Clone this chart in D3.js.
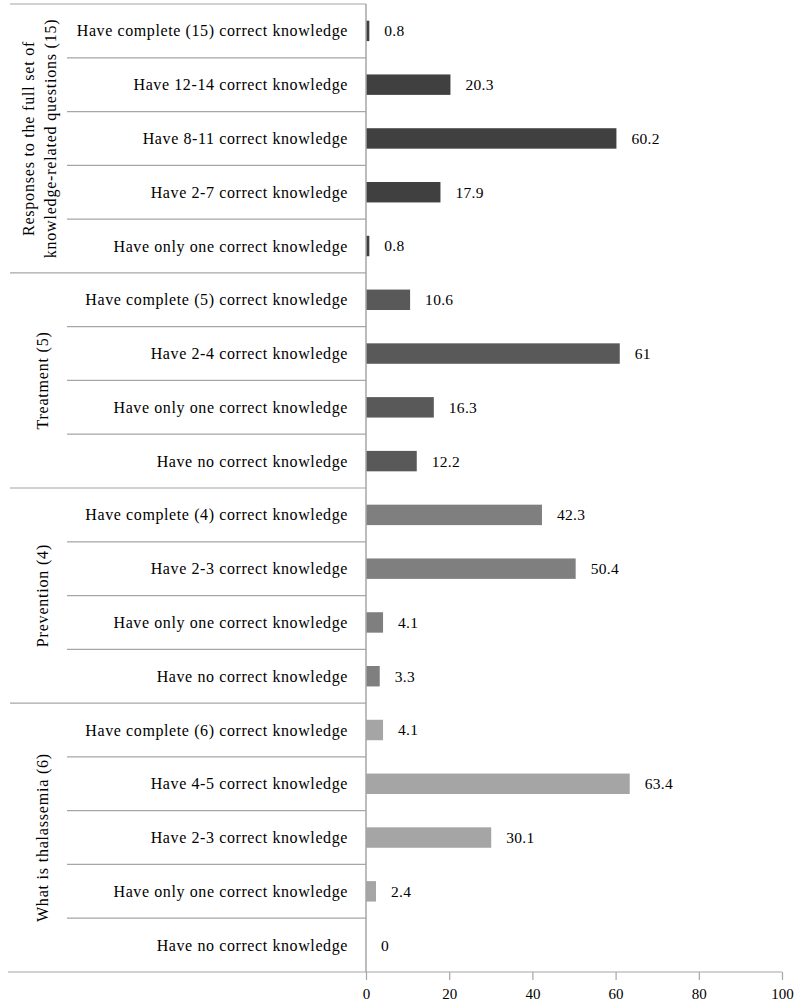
<!DOCTYPE html>
<html><head><meta charset="utf-8">
<script src="https://cdn.jsdelivr.net/npm/d3@7"></script>
<style>body{margin:0;background:#fff}svg{display:block}</style>
</head><body>
<svg id="c" width="799" height="1005"></svg>
<script>
const groupNames = [
  ["Responses to the full set of", "knowledge-related questions (15)"],
  ["Treatment (5)"],
  ["Prevention (4)"],
  ["What is thalassemia (6)"]
];
const groupColors = ["#404040", "#595959", "#7f7f7f", "#a5a5a5"];
const categories = [
  "Have complete (15) correct knowledge",
  "Have 12-14 correct knowledge",
  "Have 8-11 correct knowledge",
  "Have 2-7 correct knowledge",
  "Have only one correct knowledge",
  "Have complete (5) correct knowledge",
  "Have 2-4 correct knowledge",
  "Have only one correct knowledge",
  "Have no correct knowledge",
  "Have complete (4) correct knowledge",
  "Have 2-3 correct knowledge",
  "Have only one correct knowledge",
  "Have no correct knowledge",
  "Have complete (6) correct knowledge",
  "Have 4-5 correct knowledge",
  "Have 2-3 correct knowledge",
  "Have only one correct knowledge",
  "Have no correct knowledge"
];
const groupOf = [0,0,0,0,0,1,1,1,1,2,2,2,2,3,3,3,3,3];
const values = [0.8,20.3,60.2,17.9,0.8,10.6,61,16.3,12.2,42.3,50.4,4.1,3.3,4.1,63.4,30.1,2.4,0];
const valueLabels = ["0.8","20.3","60.2","17.9","0.8","10.6","61","16.3","12.2","42.3","50.4","4.1","3.3","4.1","63.4","30.1","2.4","0"];
const xTicks = [0,20,40,60,80,100];

const svg = d3.select("#c");
const font = "'Liberation Serif', 'DejaVu Serif', serif";
const x0 = 366, x1 = 782, yTop = 4, yBot = 972;
const x = d3.scaleLinear().domain([0,100]).range([x0, x1]);
const idx = d3.range(categories.length);
const y = d3.scaleBand().domain(idx).range([yTop, yBot]).paddingInner(0.62).paddingOuter(0.31);
const rowH = (yBot - yTop) / categories.length;
const lineCol = "#a6a6a6";

// row separator lines
idx.forEach(i => {
  if (i === 0) return;
  const isGroupStart = groupOf[i] !== groupOf[i-1];
  const yy = yTop + i * rowH;
  svg.append("line").attr("x1", isGroupStart ? 10 : 67).attr("x2", x0)
    .attr("y1", yy).attr("y2", yy).attr("stroke", lineCol).attr("stroke-width", 1.2);
});
svg.append("line").attr("x1", 10).attr("x2", x0).attr("y1", yTop).attr("y2", yTop)
  .attr("stroke", lineCol).attr("stroke-width", 1.2);

// bars
svg.selectAll("rect.bar").data(idx).enter().append("rect")
  .attr("x", x(0)).attr("y", i => y(i))
  .attr("width", i => x(values[i]) - x(0)).attr("height", y.bandwidth())
  .attr("fill", i => groupColors[groupOf[i]]);

// value labels
svg.selectAll("text.val").data(idx).enter().append("text")
  .attr("x", i => x(values[i]) + 15).attr("y", i => y(i) + y.bandwidth()/2)
  .attr("dy", "0.35em").attr("font-family", font).attr("font-size", 15.5)
  .attr("letter-spacing", 0.3).attr("fill", "#000")
  .text(i => valueLabels[i]);

// category labels
svg.selectAll("text.cat").data(idx).enter().append("text")
  .attr("x", 348).attr("y", i => y(i) + y.bandwidth()/2)
  .attr("dy", "0.35em").attr("text-anchor", "end")
  .attr("font-family", font).attr("font-size", 16).attr("letter-spacing", 0.6).attr("fill", "#000")
  .text(i => categories[i]);

// group labels
groupNames.forEach((lines, g) => {
  const rows = idx.filter(i => groupOf[i] === g);
  const cy = yTop + (rows[0] + rows[rows.length-1] + 1) / 2 * rowH;
  const cx = lines.length > 1 ? 39 : 42;
  const t = svg.append("text").attr("transform", `translate(${cx},${cy}) rotate(-90)`)
    .attr("text-anchor", "middle").attr("font-family", font).attr("font-size", 16)
    .attr("letter-spacing", 0.8).attr("fill", "#000");
  lines.forEach((ln, k) => {
    t.append("tspan").attr("x", 0).attr("y", (k - (lines.length - 1) / 2) * 22).attr("dy", "0.35em").text(ln);
  });
});

// vertical axis line
svg.append("line").attr("x1", x0).attr("x2", x0).attr("y1", yTop).attr("y2", yBot)
  .attr("stroke", lineCol).attr("stroke-width", 1.5);

// x axis
const ax = svg.append("g").attr("transform", `translate(0,${yBot})`)
  .call(d3.axisBottom(x).tickValues(xTicks).tickSize(8).tickPadding(8).tickSizeOuter(0));
ax.select(".domain").remove();
ax.selectAll(".tick line").attr("stroke", lineCol).attr("stroke-width", 1.2);
ax.selectAll(".tick text").attr("font-family", font).attr("font-size", 15).attr("fill", "#000");
svg.append("line").attr("x1", 8).attr("x2", x1).attr("y1", yBot).attr("y2", yBot)
  .attr("stroke", lineCol).attr("stroke-width", 1.2);
</script>
</body></html>
